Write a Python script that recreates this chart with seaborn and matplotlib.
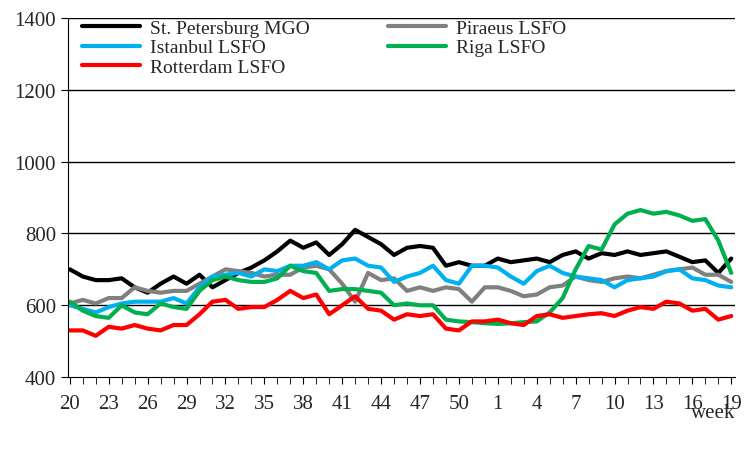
import numpy as np
import pandas as pd
import matplotlib
matplotlib.use("Agg")
import matplotlib.pyplot as plt
import seaborn as sns

weeks = list(range(20, 53)) + list(range(1, 20))

st_petersburg = [700, 680, 670, 670, 675, 650, 635, 660, 680, 660, 685, 650, 670, 690, 705, 725, 750,
                 780, 760, 775, 740, 770, 810, 790, 770, 740, 760, 765, 760, 710, 720, 710, 710,
                 730, 720, 725, 730, 720, 740, 750, 730, 745, 740, 750, 740, 745, 750, 735, 720, 725, 690, 730]
piraeus = [605, 615, 605, 620, 620, 650, 640, 635, 640, 640, 660, 680, 700, 695, 690, 680, 685,
           685, 705, 710, 700, 660, 610, 690, 670, 675, 640, 650, 640, 650, 645, 610, 650, 650,
           640, 625, 630, 650, 655, 680, 670, 665, 675, 680, 675, 685, 695, 700, 705, 685, 685, 665][:52]
istanbul = [600, 590, 580, 595, 605, 610, 610, 610, 620, 605, 650, 680, 685, 690, 680, 700, 695,
            710, 710, 720, 700, 725, 730, 710, 705, 665, 680, 690, 710, 670, 660, 710, 710,
            705, 680, 660, 695, 710, 690, 680, 675, 670, 650, 670, 675, 680, 695, 700, 675, 670, 655, 650]
riga = [610, 585, 570, 565, 600, 580, 575, 605, 595, 590, 640, 670, 680, 670, 665, 665, 675,
        710, 695, 690, 640, 645, 645, 640, 635, 600, 605, 600, 600, 560, 555, 553, 550,
        548, 550, 553, 555, 580, 620, 700, 765, 755, 825, 855, 865, 855, 860, 850, 835, 840, 780, 690]
rotterdam = [530, 530, 515, 540, 535, 545, 535, 530, 545, 545, 575, 610, 615, 590, 595, 595, 615,
             640, 620, 630, 575, 600, 625, 590, 585, 560, 575, 570, 575, 535, 530, 555, 555,
             560, 550, 545, 570, 575, 565, 570, 575, 578, 570, 585, 595, 590, 610, 605, 585, 590, 560, 570]

series = {
    "St. Petersburg MGO": (st_petersburg, "black"),
    "Piraeus LSFO": (piraeus, "#808080"),
    "Istanbul LSFO": (istanbul, "#00B0F0"),
    "Riga LSFO": (riga, "#00B050"),
    "Rotterdam LSFO": (rotterdam, "#FF0000"),
}

rows = []
for name, (vals, _) in series.items():
    for i, v in enumerate(vals):
        rows.append({"idx": i, "price": v, "port": name})
df = pd.DataFrame(rows)

sns.set_style("white")
plt.rcParams["font.family"] = ["Liberation Serif", "DejaVu Serif"]

fig = plt.figure(figsize=(7.54, 4.6), dpi=100)
ax = fig.add_axes([0.09, 0.178, 0.885, 0.781])
sns.lineplot(data=df, x="idx", y="price", hue="port", palette={k: c for k, (v, c) in series.items()},
             linewidth=3, ax=ax, legend=False)

ax.set_ylim(400, 1400)
ax.set_xlim(-0.15, 51.3)
ax.set_yticks(range(400, 1401, 200))
for y in range(600, 1401, 200):
    ax.axhline(y, color="black", lw=1, zorder=0)
ax.set_xticks(range(0, 52, 3))
ax.set_xticklabels([str(weeks[i]) for i in range(0, 52, 3)])
ax.set_xticks(range(52), minor=True)
ax.tick_params(axis="both", which="both", direction="out", length=5, color="black", labelsize=15)
ax.tick_params(axis="x", which="major", pad=7)
ax.tick_params(axis="x", which="both", bottom=True)
ax.tick_params(axis="y", left=True)
for s in ["top", "right"]:
    ax.spines[s].set_visible(False)
for s in ["left", "bottom"]:
    ax.spines[s].set_color("black")
ax.set_xlabel("")
ax.set_ylabel("")
fig.text(0.975, 0.1, "week", ha="right", va="center", fontsize=15)

# row-major order like the reference legend
order = ["St. Petersburg MGO", "Istanbul LSFO", "Rotterdam LSFO", "Piraeus LSFO", "Riga LSFO"]
handles = [plt.Line2D([], [], color=series[k][1], lw=3) for k in order]
ax.legend(handles, order, ncol=2, frameon=False, fontsize=14,
          loc="upper left", bbox_to_anchor=(-0.005, 1.045), handlelength=3.0,
          labelspacing=0.1, columnspacing=4.0, handletextpad=0.5)

fig.savefig("out.png", dpi=100)
